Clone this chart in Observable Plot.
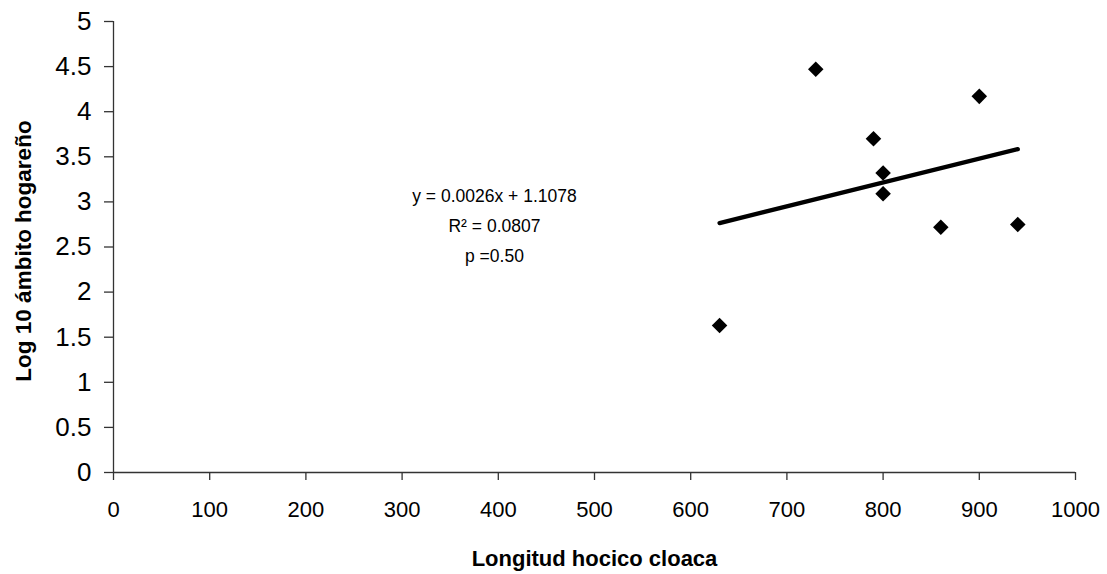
<!DOCTYPE html>
<html>
<head>
<meta charset="utf-8">
<script src="https://cdn.jsdelivr.net/npm/d3@7"></script>
<script src="https://cdn.jsdelivr.net/npm/@observablehq/plot@0.6"></script>
<style>
  html, body { margin: 0; padding: 0; background: #fff; }
  #chart svg { display: block; }
</style>
</head>
<body>
<div id="chart"></div>
<script>
// Data
const longitud = [630, 730, 790, 800, 800, 860, 900, 940];
const logAmbito = [1.63, 4.47, 3.70, 3.32, 3.09, 2.72, 4.17, 2.75];
const xTicks = [0, 100, 200, 300, 400, 500, 600, 700, 800, 900, 1000];
const yTicks = [0, 0.5, 1, 1.5, 2, 2.5, 3, 3.5, 4, 4.5, 5];
const xTitle = "Longitud hocico cloaca";
const yTitle = "Log 10 ámbito hogareño";
const annotation = ["y = 0.0026x + 1.1078", "R² = 0.0807", "p =0.50"];

const data = longitud.map((x, i) => ({x, y: logAmbito[i]}));

const font = "'Liberation Sans', Arial, sans-serif";
const axisColor = "#333";

const chart = Plot.plot({
  width: 1107,
  height: 574,
  marginLeft: 113,
  marginRight: 32,
  marginTop: 21,
  marginBottom: 102,
  style: {fontFamily: font, background: "#fff", color: "#000"},
  x: {domain: [0, 1000]},
  y: {domain: [0, 5]},
  marks: [
    Plot.ruleY([0], {x1: 0, x2: 1000, stroke: axisColor, strokeWidth: 1.3}),
    Plot.ruleX([0], {y1: 0, y2: 5, stroke: axisColor, strokeWidth: 1.3}),
    Plot.axisX({ticks: xTicks, tickSize: 8, tickPadding: 21, fontSize: 22, stroke: axisColor, strokeWidth: 1.3, fill: "#000", label: null, tickFormat: d => String(d)}),
    Plot.axisY({ticks: yTicks, tickSize: 9, tickPadding: 13, fontSize: 26, stroke: axisColor, strokeWidth: 1.3, fill: "#000", label: null, tickFormat: d => String(d)}),
    Plot.linearRegressionY(data, {x: "x", y: "y", stroke: "#000", strokeWidth: 4.3, ci: 0, strokeLinecap: "round"}),
    Plot.dot(data, {x: "x", y: "y", symbol: "diamond2", r: 7, fill: "#000", stroke: "none"}),
    Plot.text([annotation.join("\n")], {x: 396, y: 2.77, text: d => d, fontSize: 17.5, lineHeight: 1.7, textAnchor: "middle", lineAnchor: "middle", fill: "#000"}),
    Plot.text([xTitle], {frameAnchor: "bottom", text: d => d, dy: 93, textAnchor: "middle", lineAnchor: "bottom", fontSize: 22, fontWeight: "bold", fill: "#000"}),
    Plot.text([yTitle], {frameAnchor: "left", text: d => d, dx: -90, dy: 4, rotate: -90, textAnchor: "middle", lineAnchor: "middle", fontSize: 22.5, fontWeight: "bold", fill: "#000"})
  ]
});

document.getElementById("chart").appendChild(chart);
</script>
</body>
</html>
